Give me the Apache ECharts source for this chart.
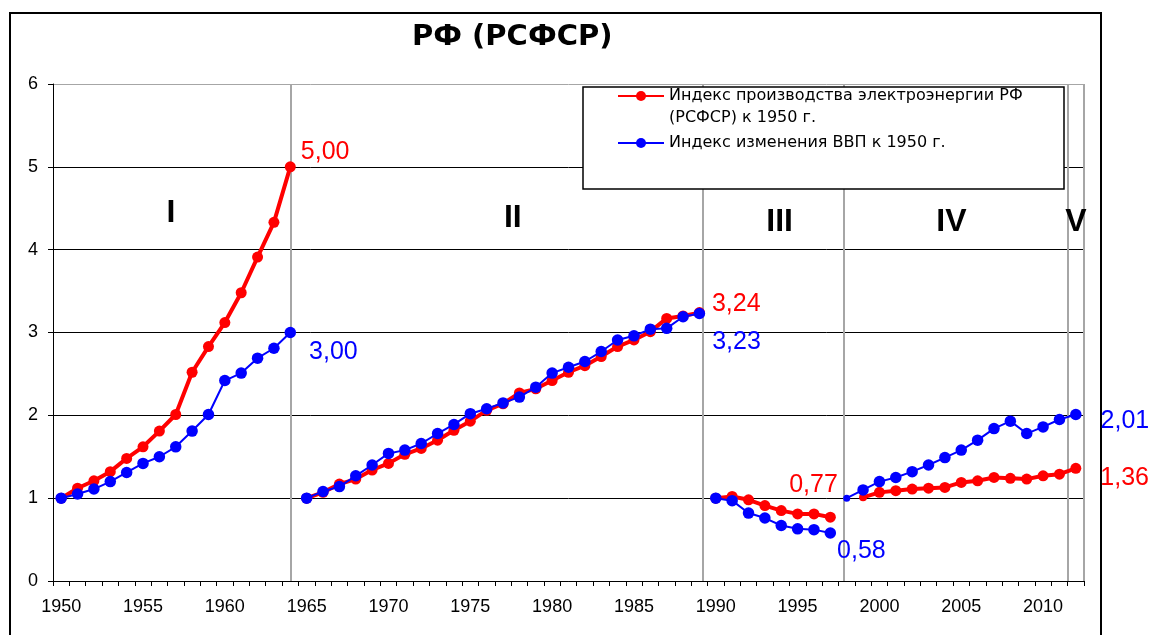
<!DOCTYPE html>
<html>
<head>
<meta charset="utf-8">
<script src="https://cdn.jsdelivr.net/npm/echarts@6/dist/echarts.min.js"></script>
<style>
  html, body { margin: 0; padding: 0; background: #fff; }
  #chart { width: 1154px; height: 635px; }
</style>
</head>
<body>
<div id="chart"></div>
<script>
// Category axis: years 1950–2012
const years = [
  '1950','1951','1952','1953','1954','1955','1956','1957','1958','1959',
  '1960','1961','1962','1963','1964','1965','1966','1967','1968','1969',
  '1970','1971','1972','1973','1974','1975','1976','1977','1978','1979',
  '1980','1981','1982','1983','1984','1985','1986','1987','1988','1989',
  '1990','1991','1992','1993','1994','1995','1996','1997','1998','1999',
  '2000','2001','2002','2003','2004','2005','2006','2007','2008','2009',
  '2010','2011','2012'
];

const ELEC = 'Индекс производства электроэнергии РФ (РСФСР) к 1950 г.';
const GDP = 'Индекс изменения ВВП к 1950 г.';

// Electricity output index, each period re-based to 1
const elecP1 = [1.00, 1.12, 1.21, 1.32, 1.48, 1.62, 1.81, 2.01, 2.52, 2.83, 3.12, 3.48, 3.91, 4.33, 5.00]; // 1950–1964
const elecP2 = [1.00, 1.07, 1.17, 1.23, 1.34, 1.42, 1.53, 1.60, 1.70, 1.82, 1.93, 2.06, 2.14, 2.27, 2.32,
                2.42, 2.52, 2.60, 2.71, 2.83, 2.91, 3.01, 3.17, 3.20, 3.24];                          // 1965–1989
const elecP3 = [1.00, 1.02, 0.98, 0.91, 0.85, 0.81, 0.81, 0.77];                                       // 1990–1997
const elecP4 = [1.01, 1.07, 1.09, 1.11, 1.12, 1.13, 1.19, 1.21, 1.25, 1.24, 1.23, 1.27, 1.29, 1.36];   // 1999–2012

// GDP index, each period re-based to 1
const gdpP1 = [1.00, 1.05, 1.11, 1.20, 1.31, 1.42, 1.50, 1.62, 1.81, 2.01, 2.42, 2.51, 2.69, 2.81, 3.00];  // 1950–1964
const gdpP2 = [1.00, 1.08, 1.14, 1.27, 1.40, 1.54, 1.58, 1.66, 1.78, 1.89, 2.02, 2.08, 2.15, 2.22, 2.34,
               2.51, 2.58, 2.65, 2.77, 2.91, 2.96, 3.04, 3.05, 3.19, 3.23];                           // 1965–1989
const gdpP3 = [1.00, 0.97, 0.82, 0.76, 0.67, 0.63, 0.62, 0.58];                                        // 1990–1997
const gdpP4 = [1.00, 1.10, 1.20, 1.25, 1.32, 1.40, 1.49, 1.58, 1.70, 1.84, 1.93, 1.78, 1.86, 1.95, 2.01]; // 1998–2012

// Period boundaries (in years) and period names
const periodBounds = [1964, 1989.2, 1997.8, 2011.5];
const periodNames = ['I', 'II', 'III', 'IV', 'V'];
const periodNameYears = [1956.7, 1977.6, 1993.9, 2004.4, 2012.0];
const periodNameLevels = [4.44, 4.38, 4.33, 4.33, 4.33];

const segments = [
  { key: 'elec', name: ELEC, start: 1950, values: elecP1 },
  { key: 'elec', name: ELEC, start: 1965, values: elecP2 },
  { key: 'elec', name: ELEC, start: 1990, values: elecP3 },
  { key: 'elec', name: ELEC, start: 1999, values: elecP4 },
  { key: 'gdp',  name: GDP,  start: 1950, values: gdpP1 },
  { key: 'gdp',  name: GDP,  start: 1965, values: gdpP2 },
  { key: 'gdp',  name: GDP,  start: 1990, values: gdpP3 },
  { key: 'gdp',  name: GDP,  start: 1998, values: gdpP4 }
];

const styleByKey = {
  elec: { color: '#ff0000', width: 4, size: 11 },
  gdp:  { color: '#0000ff', width: 2, size: 11.5 }
};

// End-of-period value captions
const captions = {
  'elec-1964': { position: 'right', offset: [0, -15] },
  'gdp-1964':  { position: 'right', offset: [8, 20] },
  'elec-1989': { position: 'right', offset: [2, -9] },
  'gdp-1989':  { position: 'right', offset: [2, 29] },
  'elec-1997': { position: 'left',  offset: [18, -32] },
  'gdp-1997':  { position: 'right', offset: [-4, 18] },
  'gdp-2012':  { position: 'right', offset: [14, 7] },
  'elec-2012': { position: 'right', offset: [14, 10] }
};

// Smaller markers at the start of the last period
const smallMarkers = { 'gdp-1998': 7, 'elec-1999': 8 };

const fmt = v => v.toFixed(2).replace('.', ',');

const lineSeries = segments.map(seg => {
  const st = styleByKey[seg.key];
  return {
    type: 'line',
    name: seg.name,
    xAxisIndex: 0,
    yAxisIndex: 0,
    symbol: 'circle',
    symbolSize: st.size,
    showAllSymbol: true,
    color: st.color,
    lineStyle: { color: st.color, width: st.width },
    itemStyle: { color: st.color, opacity: 1 },
    emphasis: { disabled: true },
    z: seg.key === 'gdp' ? 3 : 2,
    data: seg.values.map((v, i) => {
      const yr = seg.start + i;
      const id = seg.key + '-' + yr;
      const item = { value: [String(yr), v] };
      if (smallMarkers[id]) item.symbolSize = smallMarkers[id];
      const c = captions[id];
      if (c) {
        item.label = {
          show: true,
          position: c.position,
          offset: c.offset,
          formatter: p => fmt(p.value[1]),
          color: st.color,
          fontSize: 25,
          fontFamily: 'Liberation Sans'
        };
      }
      return item;
    })
  };
});

const chart = echarts.init(document.getElementById('chart'), null, { renderer: 'canvas' });

chart.setOption({
  backgroundColor: '#ffffff',
  animation: false,
  textStyle: { fontFamily: 'Liberation Sans' },
  title: {
    text: 'РФ (РСФСР)',
    left: 412,
    top: 23,
    padding: 0,
    textStyle: { fontSize: 29, fontWeight: 'bold', color: '#000', fontFamily: 'DejaVu Sans' }
  },
  legend: {
    data: [ELEC, GDP],
    orient: 'vertical',
    left: 617,
    top: 66,
    padding: 0,
    itemWidth: 46,
    itemHeight: 12.5,
    itemGap: 9,
    selectedMode: false,
    z: 5,
    formatter: name => name === ELEC
      ? '{gap| }\n{t|Индекс производства электроэнергии РФ}\n{t|(РСФСР) к 1950 г.}'
      : '{t|' + name + '}',
    textStyle: {
      color: '#000',
      rich: {
        t: { fontSize: 16, lineHeight: 22, color: '#000', fontFamily: 'DejaVu Sans' },
        gap: { fontSize: 16, lineHeight: 22 }
      }
    }
  },
  grid: { left: 53, right: 70, top: 84, bottom: 54 },
  xAxis: [
    {
      type: 'category',
      data: years,
      boundaryGap: true,
      axisLine: { show: true, lineStyle: { color: '#000', width: 1 } },
      axisTick: { show: true, interval: 0, length: 5, inside: false, lineStyle: { color: '#000' } },
      axisLabel: { interval: 4, margin: 17, fontSize: 18, color: '#000', fontFamily: 'Liberation Sans' },
      splitLine: { show: false }
    },
    {
      type: 'value',
      min: 1949.5,
      max: 2012.5,
      show: false
    }
  ],
  yAxis: {
    type: 'value',
    min: 0,
    max: 6,
    interval: 1,
    axisLine: { show: true, lineStyle: { color: '#000', width: 1 } },
    axisTick: { show: true, length: 5, lineStyle: { color: '#000' } },
    axisLabel: { fontSize: 18, color: '#000', margin: 15, fontFamily: 'Liberation Sans' },
    splitLine: {
      show: true,
      lineStyle: { color: ['#000', '#000', '#000', '#000', '#000', '#000', '#a6a6a6'], width: 1 }
    }
  },
  graphic: [
    {
      type: 'rect',
      silent: true,
      z: 0,
      shape: { x: 10, y: 13, width: 1091, height: 700 },
      style: { fill: 'none', stroke: '#000', lineWidth: 2 }
    },
    {
      type: 'rect',
      silent: true,
      z: 3,
      shape: { x: 583, y: 87, width: 481, height: 102 },
      style: { fill: '#fff', stroke: '#000', lineWidth: 1.5 }
    }
  ],
  series: [
    {
      type: 'lines',
      coordinateSystem: 'cartesian2d',
      xAxisIndex: 1,
      yAxisIndex: 0,
      silent: true,
      z: 1,
      lineStyle: { color: '#a6a6a6', width: 2, opacity: 1 },
      data: periodBounds.concat([2012.5]).map(yr => ({ coords: [[yr, 0], [yr, 6]] }))
    },
    ...lineSeries,
    {
      type: 'scatter',
      xAxisIndex: 1,
      yAxisIndex: 0,
      silent: true,
      symbolSize: 0,
      z: 4,
      itemStyle: { opacity: 1 },
      label: {
        show: true,
        position: 'inside',
        formatter: '{b}',
        fontSize: 32,
        fontWeight: 'bold',
        color: '#000',
        opacity: 1,
        fontFamily: 'Liberation Sans'
      },
      data: periodNames.map((n, i) => ({ name: n, value: [periodNameYears[i], periodNameLevels[i]] }))
    }
  ]
});
</script>
</body>
</html>
